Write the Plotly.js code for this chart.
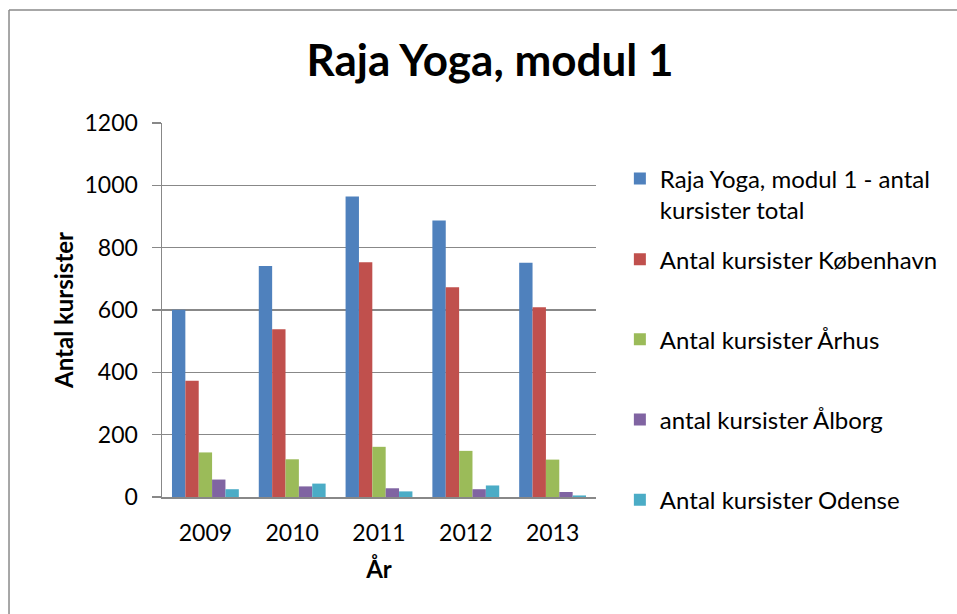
<!DOCTYPE html>
<html>
<head>
<meta charset="utf-8">
<script src="https://cdn.plot.ly/plotly-3.0.1.min.js"></script>
<style>html,body{margin:0;padding:0;background:#fff;} #chart{width:957px;height:614px;}</style>
</head>
<body>
<div id="chart"></div>
<script>
const years = ['2009', '2010', '2011', '2012', '2013'];
const seriesNames = [
  'Raja Yoga, modul 1 - antal<br>kursister total',
  'Antal kursister København',
  'Antal kursister Århus',
  'antal kursister Ålborg',
  'Antal kursister Odense'
];
const total = [601, 741, 964, 887, 752];
const kobenhavn = [373, 538, 753, 673, 609];
const arhus = [143, 121, 161, 148, 120];
const alborg = [56, 34, 28, 25, 16];
const odense = [25, 43, 18, 37, 5];
const colors = ['#4F81BD', '#C0504D', '#9BBB59', '#8064A2', '#4BACC6'];

const values = [total, kobenhavn, arhus, alborg, odense];
const FONT = 'Lato, "Open Sans", sans-serif';

const data = values.map((v, i) => ({
  type: 'bar',
  x: years,
  y: v,
  name: seriesNames[i],
  marker: {color: colors[i]},
  legend: i === 0 ? 'legend' : 'legend2',
  legendgroup: 'g' + i,
  showlegend: true
}));

const layout = {
  width: 957,
  height: 614,
  showlegend: true,
  margin: {l: 162, r: 361, t: 123, b: 117},
  paper_bgcolor: '#ffffff',
  plot_bgcolor: '#ffffff',
  font: {family: FONT, color: '#000', size: 23},
  title: {
    text: '<b>Raja Yoga, modul 1</b>',
    font: {family: FONT, size: 44, color: '#000'},
    x: 0.512, xanchor: 'center',
    y: 0.902, yanchor: 'middle'
  },
  barmode: 'group',
  bargap: 0.23,
  bargroupgap: 0,
  xaxis: {
    type: 'category',
    showline: true, linecolor: '#888', linewidth: 1.5,
    ticks: '', showgrid: false,
    tickfont: {family: FONT, size: 23},
    ticklabelstandoff: 15,
    title: {text: '<b>År</b>', font: {family: FONT, size: 24}, standoff: 16}
  },
  yaxis: {
    range: [0, 1200], dtick: 200, tick0: 0,
    showline: true, linecolor: '#888', linewidth: 1.5,
    ticks: 'outside', ticklen: 9, tickcolor: '#888', tickwidth: 1.5,
    showgrid: true, gridcolor: '#888', gridwidth: 1.5,
    zeroline: false,
    tickfont: {family: FONT, size: 23},
    ticklabelstandoff: 9,
    title: {text: '<b>Antal kursister</b>', font: {family: FONT, size: 24}, standoff: 4}
  },
  legend: {
    visible: true,
    x: 1.055, xanchor: 'left', y: 0.911, yanchor: 'top',
    font: {family: FONT, size: 24}, valign: 'top',
    bgcolor: 'rgba(0,0,0,0)'
  },
  legend2: {
    visible: true,
    x: 1.055, xanchor: 'left', y: 0.695, yanchor: 'top',
    font: {family: FONT, size: 24}, valign: 'top',
    traceorder: 'grouped', tracegroupgap: 46,
    bgcolor: 'rgba(0,0,0,0)'
  },
  shapes: [
    {type: 'line', xref: 'paper', yref: 'paper', x0: -0.3525, x1: 1.85, y0: 1.302, y1: 1.302, line: {color: '#8a8a8a', width: 1.5}},
    {type: 'line', xref: 'paper', yref: 'paper', x0: -0.3525, x1: -0.3525, y0: 1.302, y1: -0.35, line: {color: '#8a8a8a', width: 1.5}}
  ]
};

Plotly.newPlot('chart', data, layout, {displayModeBar: false, staticPlot: true});
</script>
</body>
</html>
